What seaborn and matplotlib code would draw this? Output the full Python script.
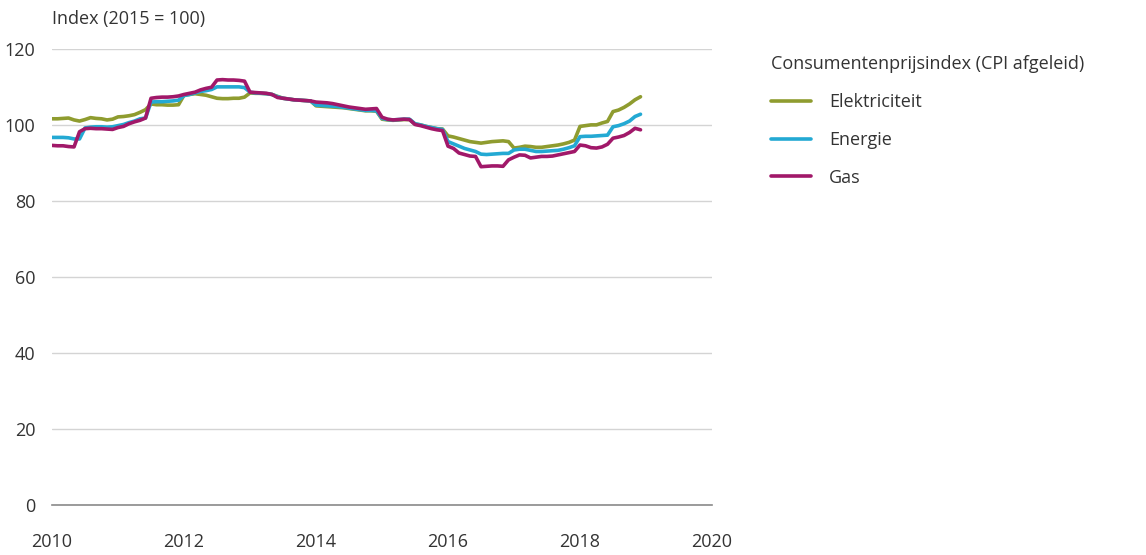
import numpy as np
import pandas as pd
import seaborn as sns
import matplotlib.pyplot as plt

# maandcijfers jan 2010 - dec 2018, index 2015 = 100
years = list(range(2010, 2019))

elektriciteit = [
    101.6, 101.6, 101.7, 101.8, 101.3, 101.0, 101.4, 101.9, 101.7, 101.6, 101.3, 101.5,
    102.1, 102.2, 102.4, 102.7, 103.3, 104.0, 105.5, 105.3, 105.3, 105.2, 105.2, 105.3,
    107.8, 108.0, 108.2, 108.0, 107.8, 107.4, 107.0, 106.9, 106.9, 107.0, 107.0, 107.3,
    108.4, 108.3, 108.3, 108.2, 108.0, 107.5, 107.0, 106.8, 106.6, 106.5, 106.4, 106.3,
    105.0, 104.9, 104.8, 104.7, 104.6, 104.5, 104.3, 104.1, 103.9, 103.7, 103.7, 103.6,
    101.5, 101.3, 101.2, 101.3, 101.4, 101.4, 100.2, 100.0, 99.6, 99.3, 99.0, 98.9,
    97.1, 96.8, 96.4, 96.0, 95.6, 95.4, 95.2, 95.4, 95.6, 95.7, 95.8, 95.6,
    93.9, 94.1, 94.4, 94.3, 94.1, 94.1, 94.3, 94.5, 94.7, 95.0, 95.4, 96.0,
    99.6, 99.8, 100.0, 100.0, 100.5, 100.9, 103.5, 103.9, 104.6, 105.5, 106.6, 107.4,
]

energie = [
    96.7, 96.7, 96.7, 96.6, 96.3, 96.3, 99.2, 99.4, 99.5, 99.5, 99.4, 99.5,
    99.8, 100.1, 100.6, 101.0, 101.6, 101.8, 106.0, 106.1, 106.1, 106.2, 106.3, 106.5,
    107.7, 108.0, 108.4, 108.8, 109.0, 109.3, 110.0, 110.0, 110.0, 110.0, 110.0, 109.8,
    108.6, 108.4, 108.3, 108.2, 108.0, 107.4, 107.0, 106.8, 106.6, 106.5, 106.4, 106.3,
    105.2, 105.1, 105.0, 104.9, 104.8, 104.6, 104.4, 104.2, 104.0, 103.8, 103.8, 103.7,
    101.7, 101.4, 101.3, 101.4, 101.5, 101.5, 100.3, 100.0, 99.6, 99.3, 99.0, 98.8,
    95.6, 95.0, 94.4, 93.8, 93.4, 93.0, 92.3, 92.2, 92.3, 92.4, 92.5, 92.5,
    93.4, 93.6, 93.6, 93.3, 93.0, 93.0, 93.1, 93.2, 93.3, 93.6, 94.0, 94.5,
    96.9, 97.0, 97.0, 97.1, 97.2, 97.3, 99.5, 99.8, 100.3, 101.0, 102.2, 102.8,
]

gas = [
    94.6, 94.5, 94.5, 94.3, 94.2, 98.2, 99.0, 99.1, 99.0, 99.0, 98.9, 98.8,
    99.3, 99.6, 100.3, 100.8, 101.2, 101.8, 107.0, 107.2, 107.3, 107.3, 107.4, 107.6,
    108.0, 108.3, 108.6, 109.2, 109.6, 109.9, 111.8, 111.9, 111.8, 111.8, 111.7, 111.5,
    108.6, 108.5, 108.4, 108.3, 108.0, 107.2, 107.0, 106.8, 106.6, 106.5, 106.4, 106.3,
    106.0, 105.9, 105.8, 105.6, 105.3, 105.0, 104.7, 104.5, 104.3, 104.1, 104.2, 104.3,
    102.0, 101.5, 101.3, 101.4, 101.5, 101.4, 100.1, 99.8, 99.4, 99.0, 98.7, 98.5,
    94.4, 93.8, 92.6, 92.2, 91.8, 91.7, 89.0, 89.1, 89.2, 89.2, 89.1, 90.8,
    91.5, 92.1, 92.0, 91.3, 91.5, 91.7, 91.7, 91.8, 92.1, 92.4, 92.7, 93.0,
    94.7, 94.5, 94.0, 93.9, 94.2, 94.9, 96.5, 96.8, 97.2, 98.0, 99.1, 98.7,
]

series = {"Elektriciteit": elektriciteit, "Energie": energie, "Gas": gas}
kleuren = {"Elektriciteit": "#8f9c2f", "Energie": "#23a9d3", "Gas": "#a11869"}

tijd = [y + m / 12 for y in years for m in range(12)]
df = pd.concat(
    [pd.DataFrame({"jaar": tijd, "index": v, "reeks": k}) for k, v in series.items()],
    ignore_index=True,
)

sns.set_style("white")
plt.rcParams["font.family"] = ["Open Sans", "DejaVu Sans"]
tekst = "#333333"

fig = plt.figure(figsize=(11.46, 5.55), dpi=100)
ax = fig.add_axes([0.0454, 0.090, 0.5759, 0.822])

sns.lineplot(data=df, x="jaar", y="index", hue="reeks", palette=kleuren,
             linewidth=2.6, ax=ax, legend=False)

ax.set_xlim(2010, 2020)
ax.set_ylim(0, 120)
ax.set_xticks(range(2010, 2021, 2))
ax.set_xticks(range(2011, 2020, 2), minor=True)
ax.set_yticks(range(0, 121, 20))
ax.grid(axis="y", color="#d4d4d4", linewidth=1)
ax.set_axisbelow(True)
for s in ["top", "right", "left"]:
    ax.spines[s].set_visible(False)
ax.spines["bottom"].set_color("#8a8a8a")
ax.spines["bottom"].set_linewidth(1.2)
ax.tick_params(axis="x", which="major", length=11, color="#8a8a8a", width=1,
               labelsize=13, labelcolor=tekst, pad=9)
ax.tick_params(axis="x", which="minor", length=5, color="#8a8a8a", width=1)
ax.tick_params(axis="y", length=0, labelsize=13, labelcolor=tekst, pad=12)
ax.set_xlabel("")
ax.set_ylabel("")

fig.text(0.0454, 0.965, "Index (2015 = 100)", fontsize=13, color=tekst,
         ha="left", va="center")

handles = [plt.Line2D([], [], color=kleuren[k], linewidth=2.6) for k in series]
leg = fig.legend(handles, list(series), loc="upper left",
                 bbox_to_anchor=(0.659, 0.93), frameon=False, fontsize=13,
                 title="Consumentenprijsindex (CPI afgeleid)", title_fontsize=13,
                 alignment="left", handlelength=2.2, handletextpad=1.0,
                 labelspacing=1.1)
for t in leg.get_texts():
    t.set_color(tekst)
leg.get_title().set_color(tekst)

fig.savefig("out.png", dpi=100)
